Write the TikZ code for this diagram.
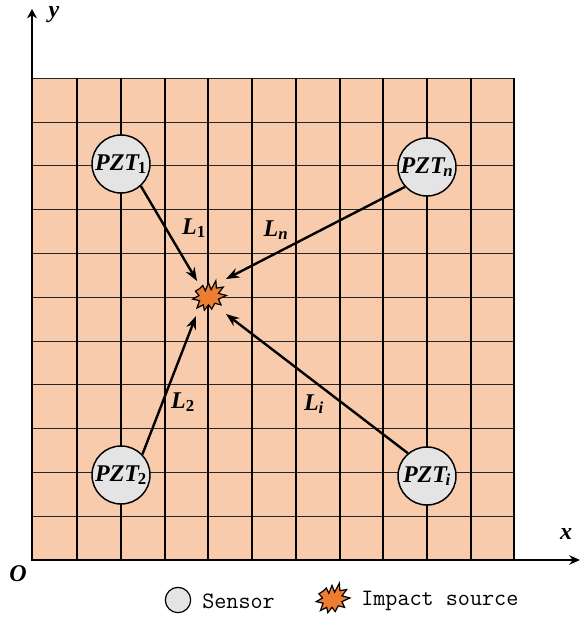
\documentclass[tikz,border=0pt]{standalone}
\usepackage{fontspec}
\setmainfont{Liberation Serif}
\setmonofont{Latin Modern Mono}
\usetikzlibrary{arrows.meta}
\definecolor{plate}{RGB}{247,203,172}
\definecolor{sensorfill}{RGB}{228,228,228}
\definecolor{burstfill}{RGB}{237,125,49}
\newcommand{\pzfont}{\fontsize{18}{18}\selectfont\bfseries\itshape}
\newcommand{\lgfont}{\fontsize{17.6}{17.6}\selectfont\ttfamily}
\newcommand{\burstshape}{(-8.5,-7.5)--(-5.5,-10.5)--(-3,-5.5)--(0,-13)--(2.5,-6.5)--(7,-15)--(7.5,-8)--(14,-9)--(9.5,-3)--(17,-1)--(9.5,2.5)--(12,8)--(6,6.5)--(3,12)--(0,8)--(-4,13)--(-5,8)--(-11,11)--(-8.5,4)--(-15,2.5)--(-9,-1)--(-12.5,-5)--cycle}
\tikzset{
  x=0.75pt,y=-0.75pt,
  vline/.style={black,line width=1.5pt},
  hline/.style={black!85,line width=0.9pt},
  sensor/.style={circle,draw=black,fill=sensorfill,line width=1.1pt,minimum size=43.5pt,inner sep=0pt,font=\pzfont},
  legendsensor/.style={circle,draw=black,fill=sensorfill,line width=0.9pt,minimum size=19pt,inner sep=0pt},
  arrowline/.style={black,line width=1.8pt,-{Stealth[length=10pt,width=7.5pt]}},
  axisx/.style={black,line width=1.5pt,-{Stealth[length=8pt,width=7pt]}},
  axisy/.style={black,line width=2.2pt,-{Stealth[length=7pt,width=7.5pt]}},
  lab/.style={font=\pzfont,inner sep=0pt},
  legendtext/.style={font=\lgfont,inner sep=0pt,anchor=west}
}
\begin{document}
\begin{tikzpicture}
\useasboundingbox (0,0) rectangle (580,620);
\fill[plate] (32,78) rectangle (514,560);
\foreach \hy in {78,122,165,209,253,297,341,384,428,472,516} \draw[hline] (32,\hy+0.5) -- (514,\hy+0.5);
\foreach \vx in {77,121,165,208,252,296,340,383,427,471} \draw[vline] (\vx,78) -- (\vx,560);
\draw[vline] (514,78) -- (514,560);
\coordinate (o) at (32,560);
\coordinate (xend) at (580,560);
\coordinate (yend) at (32,9);
\draw[axisx] (o) -- (xend);
\draw[axisy] (32,561) -- (yend);
\node[lab] (xl) at (566,534) {x};
\node[lab] (yl) at (54,15) {y};
\node[lab] (ol) at (18,574) {O};
\node[sensor] (p1) at (121,164) {PZT\textsubscript{\kern-1pt\upshape 1}};
\node[sensor] (pn) at (427,167) {PZT\textsubscript{\kern-1pt n}};
\node[sensor] (p2) at (121,475) {PZT\textsubscript{\kern-1pt\upshape 2}};
\node[sensor] (pi) at (427,476) {PZT\textsubscript{\kern-1pt i}};
\coordinate (a1) at (197,281);
\coordinate (an) at (226,279);
\coordinate (a2) at (196,316);
\coordinate (ai) at (226,314);
\draw[arrowline] (p1.-48) -- (a1);
\draw[arrowline] (pn.222) -- (an);
\draw[arrowline] (p2.44) -- (a2);
\draw[arrowline] (pi.130) -- (ai);
\begin{scope}[shift={(208.5,296.5)},scale=1.05]
\draw[fill=burstfill,draw=black,line width=0.9pt] \burstshape;
\end{scope}
\node[lab] (l1) at (194,228) {L\textsubscript{\upshape 1}};
\node[lab] (ln) at (276,230) {L\textsubscript{n}};
\node[lab] (l2) at (183,402) {L\textsubscript{\upshape 2}};
\node[lab] (li) at (314,404) {L\textsubscript{i}};
\node[legendsensor] (ls) at (178,600) {};
\node[legendtext] (lst) at (202,601) {Sensor};
\begin{scope}[shift={(332,599)},scale=1.05]
\draw[fill=burstfill,draw=black,line width=0.9pt] \burstshape;
\end{scope}
\node[legendtext] (lit) at (361,601) {Impact source};
\end{tikzpicture}
\end{document}
